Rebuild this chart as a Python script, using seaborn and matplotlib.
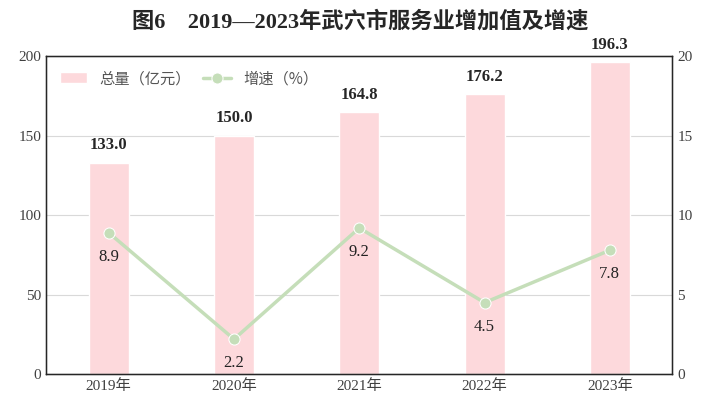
import matplotlib
matplotlib.use("Agg")
import matplotlib.pyplot as plt
import seaborn as sns
import pandas as pd

years = ["2019年", "2020年", "2021年", "2022年", "2023年"]
totals = [133.0, 150.0, 164.8, 176.2, 196.3]
growth = [8.9, 2.2, 9.2, 4.5, 7.8]

sns.set_style("white")
plt.rcParams['font.family'] = ['Liberation Serif', 'Noto Sans CJK SC', 'DejaVu Sans']

df = pd.DataFrame({"year": years, "total": totals, "growth": growth})

fig = plt.figure(figsize=(7.2, 4.18), dpi=100)
ax = fig.add_axes([0.064, 0.105, 0.87, 0.76])
sns.barplot(data=df, x="year", y="total", color="#fdd9dc", saturation=1, width=0.32, ax=ax, label="总量（亿元）")
ax.set_ylim(0, 200)
ax.set_yticks(range(0, 201, 50))
ax.yaxis.grid(True, color="#d9d9d9", lw=0.8)
ax.set_axisbelow(True)
ax.set_xlabel("")
ax.set_ylabel("")
for i, v in enumerate(totals):
    ax.text(i, v + 6, f"{v:.1f}", ha="center", va="bottom", fontsize=12, fontweight="bold")
for s in ax.spines.values():
    s.set_color("black")
    s.set_linewidth(1)
ax.tick_params(length=0, labelsize=11, colors="#404040")

ax2 = ax.twinx()
sns.lineplot(data=df, x="year", y="growth", color="#c5deb9", lw=2.5, marker="o", markersize=8,
             markeredgecolor="white", ax=ax2, label="增速（%）", sort=False)
ax2.set_ylim(0, 20)
ax2.set_yticks(range(0, 21, 5))
ax2.set_ylabel("")
ax2.tick_params(length=0, labelsize=11, colors="#404040")
for i, v in enumerate(growth):
    ax2.text(i, v - 1.0, f"{v:.1f}", ha="center", va="top", fontsize=12, color="#222222")
ax.set_xlim(-0.5, 4.5)
ax2.set_xlim(-0.5, 4.5)

h1, l1 = ax.get_legend_handles_labels()
h2, l2 = ax2.get_legend_handles_labels()
if ax2.get_legend():
    ax2.get_legend().remove()
if ax.get_legend():
    ax.get_legend().remove()
ax2.legend(h1 + h2, l1 + l2, loc="upper left", ncol=2, frameon=False,
           prop={"family": ["Noto Sans CJK SC"], "size": 11}, labelcolor="#555555",
           handlelength=1.8, columnspacing=0.8, bbox_to_anchor=(0.0, 1.0))

fig.suptitle("图6    2019—2023年武穴市服务业增加值及增速", x=0.5, y=0.975, fontsize=16,
             fontweight="bold", family=["Liberation Serif", "Noto Sans CJK SC"])
fig.savefig("out.png", dpi=100)
